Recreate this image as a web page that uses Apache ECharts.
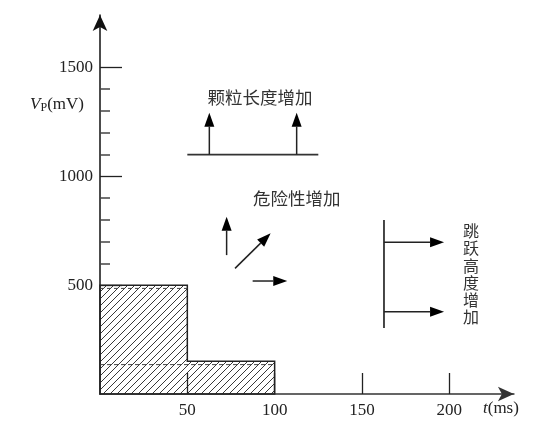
<!DOCTYPE html>
<html><head><meta charset="utf-8">
<script src="https://cdn.jsdelivr.net/npm/echarts@6/dist/echarts.min.js"></script>
<style>html,body{margin:0;padding:0;background:#fff}#c{width:552px;height:431px}</style>
</head><body><div id="c"></div>
<script>
// ---- data ----
const xTickLabels = [50, 100, 150, 200];
const yTickLabels = [500, 1000, 1500];
const yMinorTicks = [600, 700, 800, 900, 1100, 1200, 1300, 1400];
const stepX = [0, 0, 50, 50, 100, 100];
const stepY = [0, 500, 500, 150, 150, 0];
const dashedLines = [[0, 485, 50, 485], [0, 135, 100, 135]];
const plainLines = [[50, 1100, 125, 1100], [162.6, 303, 162.6, 799]];
const arrows = [
  [62.6, 1100, 62.6, 1292], [112.6, 1100, 112.6, 1292],
  [72.5, 638, 72.5, 814], [77.3, 577, 97.7, 738], [87.4, 519, 107.2, 519],
  [162.6, 697, 197, 697], [162.6, 378, 197, 378]
];
const noteTexts = ['颗粒长度增加', '危险性增加', '跳\n跃\n高\n度\n增\n加'];
const noteX = [91.6, 112.6, 212.4];
const noteY = [1364, 900, 551];
const X_MAX = 237, Y_MAX = 1741;

// ---- hatch pattern ----
const tile = document.createElement('canvas');
const S = 7; tile.width = S; tile.height = S;
const tc = tile.getContext('2d');
tc.strokeStyle = '#222'; tc.lineWidth = 0.9;
tc.beginPath();
tc.moveTo(0, S); tc.lineTo(S, 0);
tc.moveTo(-1, 1); tc.lineTo(1, -1);
tc.moveTo(S - 1, S + 1); tc.lineTo(S + 1, S - 1);
tc.stroke();

const chart = echarts.init(document.getElementById('c'), null, {renderer: 'canvas'});
const serif = 'Liberation Serif';
const cjk = 'Noto Sans CJK SC';

function arrowItem(params, api) {
  const p1 = api.coord([api.value(0), api.value(1)]);
  const p2 = api.coord([api.value(2), api.value(3)]);
  const dx = p2[0] - p1[0], dy = p2[1] - p1[1];
  const L = Math.hypot(dx, dy), ux = dx / L, uy = dy / L;
  const hl = 14, hw = 5;
  const bx = p2[0] - ux * hl, by = p2[1] - uy * hl;
  return {type: 'group', children: [
    {type: 'line', shape: {x1: p1[0], y1: p1[1], x2: bx, y2: by}, style: {stroke: '#222', lineWidth: 1.5}},
    {type: 'polygon', shape: {points: [[p2[0], p2[1]], [bx - uy * hw, by + ux * hw], [bx + uy * hw, by - ux * hw]]}, style: {fill: '#000'}}
  ]};
}
function lineItem(dashed, color, width) {
  return function (params, api) {
    const p1 = api.coord([api.value(0), api.value(1)]);
    const p2 = api.coord([api.value(2), api.value(3)]);
    return {type: 'line', shape: {x1: p1[0], y1: p1[1], x2: p2[0], y2: p2[1]},
      style: {stroke: color, lineWidth: width, lineDash: dashed ? [4, 3] : null}};
  };
}
const plain = v => String(v);

chart.setOption({
  animation: false,
  backgroundColor: '#fff',
  textStyle: {fontFamily: serif},
  grid: {left: 100, bottom: 37, width: X_MAX * 1.7465, height: Y_MAX * 0.2177},
  xAxis: {
    type: 'value', min: 0, max: X_MAX, interval: 50, splitLine: {show: false},
    axisLine: {show: true, lineStyle: {color: '#333', width: 1.5}, symbol: ['none', 'arrow'], symbolSize: [11, 16]},
    axisTick: {show: true, inside: true, length: 21, customValues: xTickLabels, lineStyle: {color: '#222', width: 1.3}},
    axisLabel: {customValues: xTickLabels, formatter: plain, fontFamily: serif, fontSize: 17, color: '#222', margin: 8}
  },
  yAxis: [{
    type: 'value', min: 0, max: Y_MAX, interval: 500, splitLine: {show: false},
    axisLine: {show: true, lineStyle: {color: '#111', width: 1.5}, symbol: ['none', 'arrow'], symbolSize: [11, 16]},
    axisTick: {show: true, inside: true, length: 22, customValues: yTickLabels, lineStyle: {color: '#222', width: 1.3}},
    axisLabel: {customValues: yTickLabels, formatter: plain, fontFamily: serif, fontSize: 17, color: '#222', margin: 7}
  }, {
    type: 'value', min: 0, max: Y_MAX, position: 'left', splitLine: {show: false},
    axisLine: {show: false}, axisLabel: {show: false},
    axisTick: {show: true, inside: true, length: 10, customValues: yMinorTicks, lineStyle: {color: '#444', width: 1.5}}
  }],
  graphic: [
    {type: 'text', right: 552 - 84, top: 96, style: {
      text: '{i|V}{s|P}{n|(mV)}', fill: '#222',
      rich: {i: {fontFamily: serif, fontStyle: 'italic', fontSize: 17},
             s: {fontFamily: serif, fontSize: 12, padding: [6, 0, 0, 0]},
             n: {fontFamily: serif, fontSize: 17}}}},
    {type: 'text', left: 483, top: 400, style: {
      text: '{i|t}{n|(ms)}', fill: '#222',
      rich: {i: {fontFamily: serif, fontStyle: 'italic', fontSize: 17}, n: {fontFamily: serif, fontSize: 17}}}}
  ],
  series: [
    {type: 'custom', data: [[0, 0]], z: 2, renderItem: function (params, api) {
      const pts = stepX.map((x, i) => api.coord([x, stepY[i]]));
      return {type: 'polygon', shape: {points: pts},
        style: {fill: {image: tile, repeat: 'repeat'}, stroke: '#222', lineWidth: 1.5}};
    }},
    {type: 'custom', data: dashedLines, z: 3, renderItem: lineItem(true, '#444', 1)},
    {type: 'custom', data: plainLines, z: 3, renderItem: lineItem(false, '#333', 1.8)},
    {type: 'custom', data: arrows, z: 3, renderItem: arrowItem},
    {type: 'custom', data: noteTexts.map((t, i) => [noteX[i], noteY[i], i]), z: 4,
      renderItem: function (params, api) {
        const p = api.coord([api.value(0), api.value(1)]);
        const vertical = params.dataIndex === 2;
        return {type: 'text', x: p[0], y: p[1], style: {
          text: noteTexts[params.dataIndex], fontFamily: cjk, fontSize: vertical ? 16 : 17.5,
          fill: '#333', align: 'center', verticalAlign: 'middle', lineHeight: 17.2}};
      }}
  ]
});
</script></body></html>
